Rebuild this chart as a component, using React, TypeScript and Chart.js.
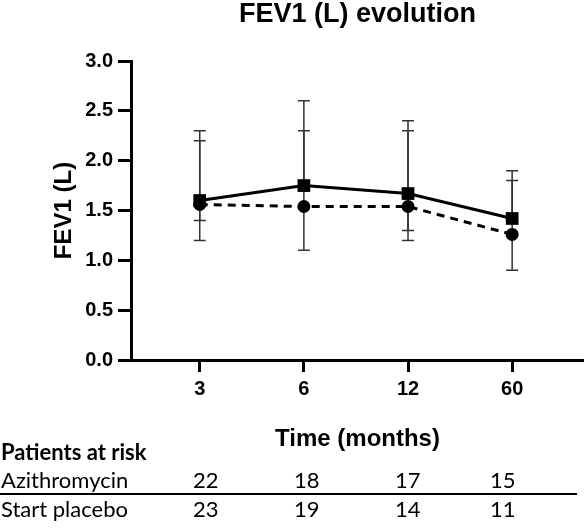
import React, { useEffect, useRef } from "react";
import { Chart, registerables } from "chart.js";

Chart.register(...registerables);

const categories = ["3", "6", "12", "60"];
const squareMeans = [1.6, 1.75, 1.67, 1.42];
const squareUpper = [2.3, 2.6, 2.4, 1.9];
const squareLower: (number | null)[] = [1.4, null, 1.3, null];
const circleMeans = [1.56, 1.54, 1.54, 1.26];
const circleUpper = [2.2, 2.3, 2.3, 1.8];
const circleLower: (number | null)[] = [1.2, 1.1, 1.2, 0.9];
const yTicks = [0, 0.5, 1, 1.5, 2, 2.5, 3];
const riskGroups = ["Azithromycin", "Start placebo"];
const riskAzithro = [22, 18, 17, 15];
const riskPlacebo = [23, 19, 14, 11];

const TITLE = "FEV1 (L) evolution";
const Y_TITLE = "FEV1 (L)";
const X_TITLE = "Time (months)";
const RISK_TITLE = "Patients at risk";

const SANS = "'Liberation Sans', Arial, sans-serif";
const TABLE_FONT = "Lato, 'Open Sans', sans-serif";

const errorBars = [
  { upper: squareUpper, lower: squareLower, means: squareMeans },
  { upper: circleUpper, lower: circleLower, means: circleMeans },
];

const errorBarPlugin = {
  id: "errorBars",
  beforeDatasetsDraw(chart: any) {
    const ctx = chart.ctx;
    const xs = chart.scales.x;
    const ys = chart.scales.y;
    ctx.save();
    ctx.strokeStyle = "#333";
    ctx.lineWidth = 1.5;
    errorBars.forEach((eb) => {
      eb.means.forEach((m, i) => {
        const x = xs.getPixelForValue(i + 1);
        const ym = ys.getPixelForValue(m);
        const up = eb.upper[i];
        const lo = eb.lower[i];
        const cap = 6;
        if (up != null) {
          const yu = ys.getPixelForValue(up);
          ctx.beginPath();
          ctx.moveTo(x, ym);
          ctx.lineTo(x, yu);
          ctx.moveTo(x - cap, yu);
          ctx.lineTo(x + cap, yu);
          ctx.stroke();
        }
        if (lo != null) {
          const yl = ys.getPixelForValue(lo);
          ctx.beginPath();
          ctx.moveTo(x, ym);
          ctx.lineTo(x, yl);
          ctx.moveTo(x - cap, yl);
          ctx.lineTo(x + cap, yl);
          ctx.stroke();
        }
      });
    });
    ctx.restore();
  },
};

const textPlugin = {
  id: "texts",
  afterDraw(chart: any) {
    const ctx = chart.ctx;
    const area = chart.chartArea;
    const cx = 357.5;
    ctx.save();
    ctx.fillStyle = "#000";
    // Title
    ctx.font = `bold 27px ${SANS}`;
    ctx.textAlign = "center";
    ctx.textBaseline = "alphabetic";
    ctx.fillText(TITLE, cx, 22);
    // X title
    ctx.font = `bold 24px ${SANS}`;
    ctx.fillText(X_TITLE, cx, 446);
    // Y title
    ctx.save();
    ctx.translate(71, (area.top + area.bottom) / 2);
    ctx.rotate(-Math.PI / 2);
    ctx.font = `bold 24px ${SANS}`;
    ctx.textAlign = "center";
    ctx.fillText(Y_TITLE, 0, 0);
    ctx.restore();
    // Risk table
    ctx.textAlign = "left";
    ctx.font = `bold 22px ${TABLE_FONT}`;
    ctx.fillText(RISK_TITLE, 1, 460);
    ctx.font = `22px ${TABLE_FONT}`;
    const rows = [riskAzithro, riskPlacebo];
    const baselines = [488, 517];
    const colX = [193, 294, 395, 490];
    rows.forEach((row, r) => {
      ctx.fillText(riskGroups[r], 1, baselines[r]);
      row.forEach((v, i) => {
        ctx.fillText(String(v), colX[i], baselines[r]);
      });
    });
    ctx.strokeStyle = "#000";
    ctx.lineWidth = 2;
    ctx.beginPath();
    ctx.moveTo(0, 494);
    ctx.lineTo(577, 494);
    ctx.stroke();
    ctx.restore();
  },
};

export default function App() {
  const ref = useRef<HTMLCanvasElement | null>(null);
  useEffect(() => {
    if (!ref.current) return;
    const chart = new Chart(ref.current, {
      type: "line",
      data: {
        datasets: [
          {
            label: "Azithromycin",
            data: squareMeans.map((v, i) => ({ x: i + 1, y: v })),
            borderColor: "#000",
            backgroundColor: "#000",
            borderWidth: 3,
            pointStyle: "rect",
            pointRadius: 9,
            pointBorderWidth: 0,
            pointBackgroundColor: "#000",
            tension: 0,
          },
          {
            label: "Start placebo",
            data: circleMeans.map((v, i) => ({ x: i + 1, y: v })),
            borderColor: "#000",
            backgroundColor: "#000",
            borderWidth: 3,
            borderDash: [8, 6],
            pointStyle: "circle",
            pointRadius: 6.5,
            pointBorderWidth: 0,
            pointBackgroundColor: "#000",
            tension: 0,
          },
        ],
      },
      options: {
        animation: false,
        responsive: false,
        devicePixelRatio: 1,
        layout: { autoPadding: false, padding: { top: 61, left: 0, right: 0, bottom: 0 } },
        plugins: {
          legend: { display: false },
          tooltip: { enabled: false },
          title: { display: false },
        },
        scales: {
          x: {
            type: "linear",
            min: 0.34,
            max: 4.69,
            afterBuildTicks: (scale: any) => {
              scale.ticks = categories.map((_, i) => ({ value: i + 1 }));
            },
            afterFit: (scale: any) => {
              scale.height = 168;
              scale.paddingLeft = 0;
              scale.paddingRight = 0;
            },
            ticks: {
              autoSkip: false,
              maxRotation: 0,
              padding: 5,
              color: "#000",
              font: { family: SANS, size: 20, weight: "bold" },
              callback: (v: any) => {
                const idx = Math.round(Number(v)) - 1;
                return categories[idx] ?? "";
              },
            },
            grid: {
              drawOnChartArea: false,
              drawTicks: true,
              tickLength: 12,
              color: "#000",
              lineWidth: 3,
            },
            border: { display: true, color: "#000", width: 3 },
          },
          y: {
            type: "linear",
            min: 0,
            max: 3,
            afterBuildTicks: (scale: any) => {
              scale.ticks = yTicks.map((v) => ({ value: v }));
            },
            afterFit: (scale: any) => {
              scale.width = 131;
              scale.paddingTop = 0;
              scale.paddingBottom = 0;
            },
            ticks: {
              padding: 5,
              color: "#000",
              font: { family: SANS, size: 20, weight: "bold" },
              callback: (v: any) => Number(v).toFixed(1),
            },
            grid: {
              drawOnChartArea: false,
              drawTicks: true,
              tickLength: 13,
              color: "#000",
              lineWidth: 3,
            },
            border: { display: true, color: "#000", width: 3 },
          },
        },
      },
      plugins: [errorBarPlugin, textPlugin],
    } as any);
    return () => chart.destroy();
  }, []);
  return (
    <div style={{ position: "absolute", left: 0, top: 0, width: 584, height: 528, background: "#fff" }}>
      <canvas ref={ref} width={584} height={528} />
    </div>
  );
}
